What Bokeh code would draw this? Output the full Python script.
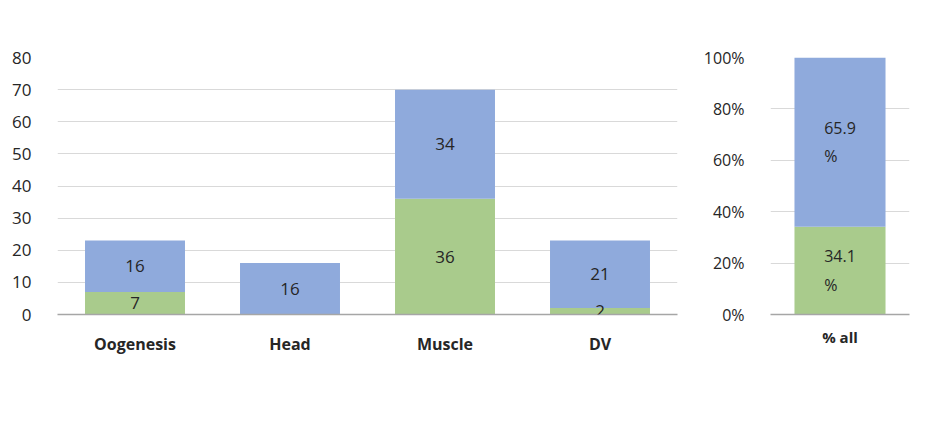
from bokeh.plotting import figure
from bokeh.models import (ColumnDataSource, FactorRange, Range1d, LabelSet, Label, Legend,
                          LegendItem, BoxAnnotation, FixedTicker, PrintfTickFormatter)
from bokeh.core.properties import value
from bokeh.layouts import row
from bokeh.embed import file_html
from bokeh.resources import INLINE

# ---------------- data ----------------
categories = ["Oogenesis", "Head", "Muscle", "DV"]
not_tested = [7, 0, 36, 2]
tested = [16, 16, 34, 21]
series_names = ["Not tested in Tribolium", "Tested in Tribolium"]
y_ticks_a = [0, 10, 20, 30, 40, 50, 60, 70, 80]

pct_category = ["% all"]
pct_not_tested = [34.1]
pct_tested = [65.9]
y_ticks_b = [0, 20, 40, 60, 80, 100]

# ---------------- style ----------------
GREEN = "#A9CB8C"
BLUE = "#8FAADC"
FONT = "Open Sans"
TEXT = "#262626"
GRID = "#D9D9D9"
AXIS = "#A6A6A6"
BOX = "#A0A0A0"


def style_common(p):
    p.outline_line_color = None
    p.background_fill_color = "white"
    p.border_fill_color = "white"
    p.xgrid.grid_line_color = None
    p.ygrid.grid_line_color = GRID
    p.ygrid.grid_line_width = 1
    p.yaxis.axis_line_color = None
    p.yaxis.major_tick_line_color = None
    p.yaxis.minor_tick_line_color = None
    p.yaxis.major_label_text_font = FONT
    p.yaxis.major_label_text_font_size = "17px"
    p.yaxis.major_label_text_color = TEXT
    p.yaxis.major_label_standoff = 20
    p.xaxis.axis_line_color = AXIS
    p.xaxis.axis_line_width = 1.5
    p.xaxis.major_tick_line_color = None
    p.xaxis.minor_tick_line_color = None
    p.xaxis.major_tick_out = 0
    p.xaxis.major_label_text_font = FONT
    p.xaxis.major_label_text_font_style = "bold"
    p.xaxis.major_label_text_color = TEXT


# ---------------- panel A ----------------
pA = figure(x_range=FactorRange(*categories), y_range=Range1d(0, 80),
            width=699, height=409, output_backend="svg", toolbar_location=None,
            min_border_left=57, min_border_right=22, min_border_top=57, min_border_bottom=95)
style_common(pA)
pA.yaxis.ticker = FixedTicker(ticks=y_ticks_a)
pA.xaxis.major_label_text_font_size = "16px"
pA.xaxis.major_label_standoff = 18

srcA = ColumnDataSource(dict(cat=categories, nt=not_tested, t=tested))
rsA = pA.vbar_stack(["nt", "t"], x="cat", width=0.645, source=srcA,
                    fill_color=[GREEN, BLUE], line_color=None)

g_x = [c for c, v in zip(categories, not_tested) if v > 0]
g_y = [v / 2 for v in not_tested if v > 0]
g_t = [str(v) for v in not_tested if v > 0]
b_x = [c for c, v in zip(categories, tested) if v > 0]
b_y = [n + v / 2 for n, v in zip(not_tested, tested) if v > 0]
b_t = [str(v) for v in tested if v > 0]
labA = ColumnDataSource(dict(x=g_x + b_x, y=g_y + b_y, text=g_t + b_t))
pA.add_layout(LabelSet(x="x", y="y", text="text", source=labA, text_align="center",
                       text_baseline="middle", text_font=value(FONT),
                       text_font_size="17px", text_color=TEXT))

legend = Legend(items=[LegendItem(label=series_names[0], renderers=[rsA[0]]),
                       LegendItem(label=series_names[1], renderers=[rsA[1]])],
                orientation="horizontal", location=(82, -85),
                glyph_width=13, glyph_height=13, label_standoff=4, spacing=33,
                padding=0, margin=0, border_line_color=None, background_fill_alpha=0,
                label_text_font=FONT, label_text_font_size="18px", label_text_color=TEXT)
pA.add_layout(legend)

pA.add_layout(BoxAnnotation(left=-53, right=641, top=280, bottom=-300,
                            left_units="screen", right_units="screen",
                            top_units="screen", bottom_units="screen",
                            fill_alpha=0, line_color=BOX, line_width=2))
pA.add_layout(Label(x=-48, y=284, x_units="screen", y_units="screen", text="A",
                    text_font="Liberation Sans", text_font_size="34px",
                    text_baseline="alphabetic", text_color="black"))

# ---------------- panel B ----------------
pB = figure(x_range=FactorRange(*pct_category), y_range=Range1d(0, 100),
            width=213, height=409, output_backend="svg", toolbar_location=None,
            min_border_left=71, min_border_right=3, min_border_top=56, min_border_bottom=34)
style_common(pB)
pB.yaxis.ticker = FixedTicker(ticks=y_ticks_b)
pB.yaxis.formatter = PrintfTickFormatter(format="%d%%")
pB.yaxis.major_label_text_font_size = "16px"
pB.xaxis.major_label_text_font_size = "15px"
pB.xaxis.major_label_standoff = 12

srcB = ColumnDataSource(dict(cat=pct_category, nt=pct_not_tested, t=pct_tested))
pB.vbar_stack(["nt", "t"], x="cat", width=0.655, source=srcB,
              fill_color=[GREEN, BLUE], line_color=None)
labB = ColumnDataSource(dict(
    x=pct_category + pct_category,
    y=[pct_not_tested[0] / 2, pct_not_tested[0] + pct_tested[0] / 2],
    text=[f"{pct_not_tested[0]}\n%", f"{pct_tested[0]}\n%"]))
pB.add_layout(LabelSet(x="x", y="y", text="text", source=labB, text_align="center",
                       text_baseline="middle", text_font=value(FONT),
                       text_font_size="16px", text_color=TEXT, text_line_height=1.3))

pB.add_layout(BoxAnnotation(left=-80, right=400, top=341, bottom=-300,
                            left_units="screen", right_units="screen",
                            top_units="screen", bottom_units="screen",
                            fill_alpha=0, line_color=BOX, line_width=2))
pB.add_layout(Label(x=-70, y=345, x_units="screen", y_units="screen", text="B",
                    text_font="Liberation Sans", text_font_size="34px",
                    text_baseline="alphabetic", text_color="black"))

layout = row(pA, pB)
open("out.html", "w").write(file_html(layout, INLINE))
